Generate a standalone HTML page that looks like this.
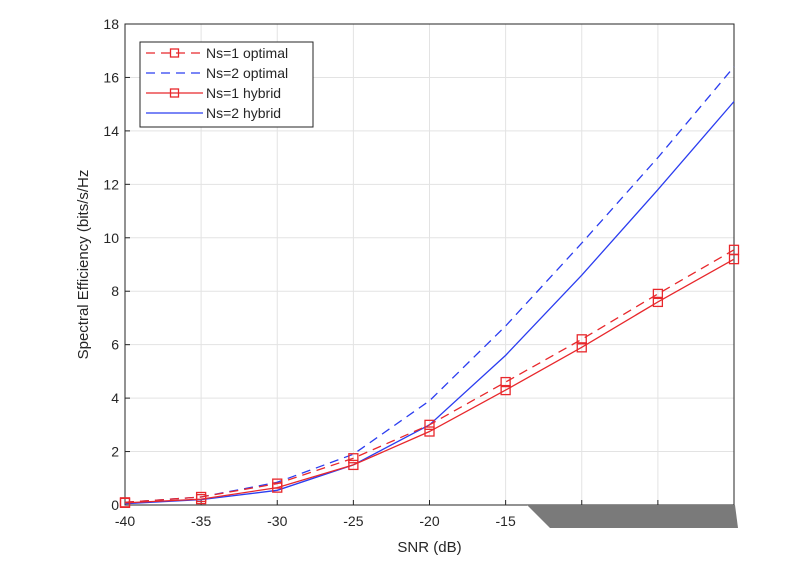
<!DOCTYPE html>
<html><head><meta charset="utf-8"><style>
body{margin:0;background:#fff;}
svg text{font-family:"Liberation Sans",sans-serif;fill:#262626;}
</style></head><body>
<svg id="chart" width="795" height="571">
<polygon points="527,505 735,505 738,528 550,528" fill="#7a7a7a"/>
</svg>
<script>
const snr=[-40,-35,-30,-25,-20,-15,-10,-5,0];
const ns1Optimal=[0.1,0.3,0.8,1.75,3.0,4.6,6.2,7.9,9.55];
const ns2Optimal=[0.1,0.3,0.85,1.9,3.9,6.7,9.8,13.0,16.4];
const ns1Hybrid=[0.08,0.22,0.65,1.5,2.75,4.3,5.9,7.6,9.2];
const ns2Hybrid=[0.05,0.2,0.55,1.5,3.0,5.6,8.6,11.8,15.1];
const xTicks=[-40,-35,-30,-25,-20,-15];
const yTicks=[0,2,4,6,8,10,12,14,16,18];
const L=125,R=734,T=24,B=505;
const X=v=>L+(v+40)/40*(R-L);
const Y=v=>B-v/18*(B-T);
const svg=document.getElementById('chart');
const NS='http://www.w3.org/2000/svg';
function mk(t,a,p){const e=document.createElementNS(NS,t);for(const k in a)e.setAttribute(k,a[k]);(p||svg).insertBefore(e,svg.lastElementChild);return e;}
const bg=mk('rect',{x:L,y:T,width:R-L,height:B-T,fill:'#fff'});


for(let v=-40;v<=0;v+=5){const g=mk('line',{x1:X(v),x2:X(v),y1:T,y2:B,stroke:'#e3e3e3'});

}
yTicks.forEach(v=>{const g=mk('line',{x1:L,x2:R,y1:Y(v),y2:Y(v),stroke:'#e3e3e3'});


const t=mk('text',{x:L-6,y:Y(v)+5,'text-anchor':'end','font-size':14});t.textContent=v;


mk('line',{x1:L,x2:L+5,y1:Y(v),y2:Y(v),stroke:'#262626'});});
for(let v=-40;v<=0;v+=5){mk('line',{x1:X(v),x2:X(v),y1:B,y2:B-5,stroke:'#262626'});}
xTicks.forEach(v=>{const t=mk('text',{x:X(v),y:B+21,'text-anchor':'middle','font-size':14});t.textContent=v;

});
const ax=mk('rect',{x:L,y:T,width:R-L,height:B-T,fill:'none',stroke:'#262626'});


const xl=mk('text',{x:(L+R)/2,y:552,'text-anchor':'middle','font-size':15});xl.textContent='SNR (dB)';


const yl=mk('text',{x:0,y:0,'text-anchor':'middle','font-size':15,transform:`translate(88,${(T+B)/2}) rotate(-90)`});yl.textContent='Spectral Efficiency (bits/s/Hz';


function series(d,col,dash,markers,name){
const p=mk('polyline',{points:d.map((v,i)=>X(snr[i])+','+Y(v)).join(' '),fill:'none',stroke:col,'stroke-width':1.3,'stroke-dasharray':dash?'9,6':'none'});


if(markers)d.forEach((v,i)=>{const m=mk('rect',{x:X(snr[i])-4.5,y:Y(v)-4.5,width:9,height:9,fill:'none',stroke:col,'stroke-width':1.3});

});}
series(ns2Optimal,'#2b3df0',true,false,'ns2-optimal');
series(ns2Hybrid,'#2b3df0',false,false,'ns2-hybrid');
series(ns1Optimal,'#e8282c',true,true,'ns1-optimal');
series(ns1Hybrid,'#e8282c',false,true,'ns1-hybrid');
const lg=mk('rect',{x:140,y:42,width:173,height:85,fill:'#fff',stroke:'#262626'});


[['Ns=1 optimal','#e8282c',true,true],['Ns=2 optimal','#2b3df0',true,false],['Ns=1 hybrid','#e8282c',false,true],['Ns=2 hybrid','#2b3df0',false,false]].forEach((e,i)=>{
const y=53+i*20;
mk('line',{x1:146,x2:203,y1:y,y2:y,stroke:e[1],'stroke-width':1.3,'stroke-dasharray':e[2]?'9,6':'none'});
if(e[3])mk('rect',{x:170.5,y:y-4,width:8,height:8,fill:'none',stroke:e[1],'stroke-width':1.3});
const t=mk('text',{x:206,y:y+5,'font-size':14});t.textContent=e[0];

});
</script>
</body></html>
